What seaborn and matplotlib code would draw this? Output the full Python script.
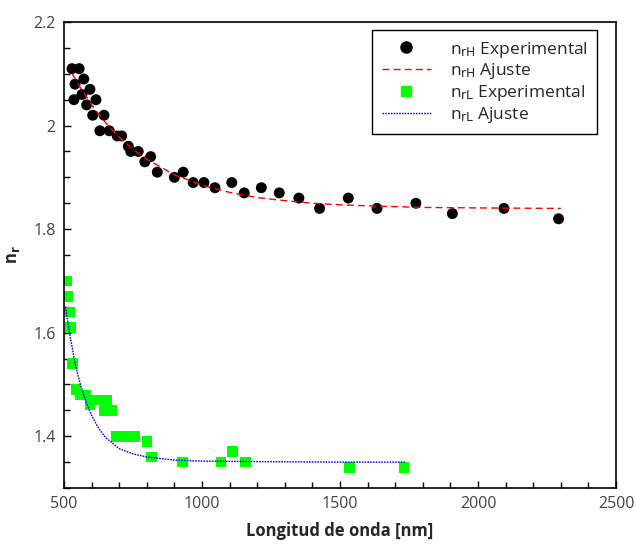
import matplotlib
matplotlib.use("Agg")
import matplotlib.pyplot as plt
from matplotlib.ticker import MultipleLocator
from matplotlib.lines import Line2D
import seaborn as sns
import pandas as pd

# nrH experimental
h_x = [529, 555, 540, 572, 536, 565, 594, 582, 616, 604, 645, 630, 664, 693, 709,
       733, 742, 769, 793, 814, 838, 900, 932, 968, 1007, 1047, 1108, 1153, 1215,
       1280, 1351, 1426, 1530, 1634, 1775, 1907, 2094, 2292]
h_y = [2.11, 2.11, 2.08, 2.09, 2.05, 2.06, 2.07, 2.04, 2.05, 2.02, 2.02, 1.99, 1.99,
       1.98, 1.98, 1.96, 1.95, 1.95, 1.93, 1.94, 1.91, 1.90, 1.91, 1.89, 1.89, 1.88,
       1.89, 1.87, 1.88, 1.87, 1.86, 1.84, 1.86, 1.84, 1.85, 1.83, 1.84, 1.82]

# nrH fit
hf_x = [530, 560, 600, 650, 700, 750, 800, 900, 1000, 1100, 1200, 1300, 1400, 1500,
        1600, 1800, 2000, 2300]
hf_y = [2.100, 2.073, 2.040, 2.006, 1.978, 1.954, 1.935, 1.905, 1.885, 1.871, 1.861,
        1.855, 1.850, 1.847, 1.845, 1.842, 1.841, 1.840]

# nrL experimental
l_x = [510, 514, 522, 524, 531, 543, 558, 580, 594, 618, 655, 645, 673, 688, 721,
       757, 800, 818, 929, 1069, 1111, 1158, 1535, 1732]
l_y = [1.70, 1.67, 1.64, 1.61, 1.54, 1.49, 1.48, 1.48, 1.46, 1.47, 1.47, 1.45, 1.45,
       1.40, 1.40, 1.40, 1.39, 1.36, 1.35, 1.35, 1.37, 1.35, 1.34, 1.34]

# nrL fit
lf_x = [505, 520, 540, 560, 580, 600, 625, 650, 700, 750, 800, 900, 1000, 1200,
        1500, 1740]
lf_y = [1.650, 1.600, 1.541, 1.499, 1.466, 1.440, 1.416, 1.398, 1.376, 1.366, 1.360,
        1.354, 1.352, 1.351, 1.350, 1.350]

labels = [r"n$_{\mathrm{rH}}$ Experimental", r"n$_{\mathrm{rH}}$ Ajuste",
          r"n$_{\mathrm{rL}}$ Experimental", r"n$_{\mathrm{rL}}$ Ajuste"]

sns.set_style("white")
plt.rcParams["font.family"] = ["Open Sans", "DejaVu Sans"]
plt.rcParams["mathtext.default"] = "regular"

fig = plt.figure(figsize=(6.36, 5.51), dpi=100)
ax = fig.add_axes([0.1006, 0.1143, 0.868, 0.8457])

dh = pd.DataFrame({"x": h_x, "y": h_y})
dhf = pd.DataFrame({"x": hf_x, "y": hf_y})
dl = pd.DataFrame({"x": l_x, "y": l_y})
dlf = pd.DataFrame({"x": lf_x, "y": lf_y})

red_ls = (0, (5, 3))
blue_ls = (0, (1.2, 0.8))

sns.lineplot(data=dhf, x="x", y="y", ax=ax, color="#ff0000", lw=1.0,
             linestyle=red_ls, sort=False, zorder=3)
sns.lineplot(data=dlf, x="x", y="y", ax=ax, color="#0000ff", lw=1.0,
             linestyle=blue_ls, sort=False, zorder=3)
sns.scatterplot(data=dh, x="x", y="y", ax=ax, color="black", marker="o", s=62,
                edgecolor="none", zorder=2)
sns.scatterplot(data=dl, x="x", y="y", ax=ax, color="#00ff00", marker="s", s=58,
                edgecolor="none", zorder=2)

handles = [
    Line2D([], [], color="black", marker="o", ls="none", markersize=8),
    Line2D([], [], color="#ff0000", lw=1.0, ls=red_ls),
    Line2D([], [], color="#00ff00", marker="s", ls="none", markersize=7),
    Line2D([], [], color="#0000ff", lw=1.0, ls=blue_ls),
]
leg = ax.legend(handles, labels, loc="upper right", bbox_to_anchor=(0.9656, 0.983),
                fontsize=12.5, frameon=True, fancybox=False, framealpha=1,
                edgecolor="black", borderpad=0.55, handlelength=2.8,
                labelspacing=0.1, handletextpad=1.1, borderaxespad=0)
leg.get_frame().set_linewidth(1.0)

ax.set_xlim(500, 2500)
ax.set_ylim(1.3, 2.2)
ax.xaxis.set_major_locator(MultipleLocator(500))
ax.xaxis.set_minor_locator(MultipleLocator(100))
ax.yaxis.set_minor_locator(MultipleLocator(0.05))
ax.set_yticks([1.4, 1.6, 1.8, 2.0, 2.2])
ax.set_yticklabels(["1.4", "1.6", "1.8", "2", "2.2"])
ax.tick_params(which="both", direction="in", left=True, bottom=True,
               top=False, right=False, colors="black", labelcolor="#444444",
               labelsize=11.5)
ax.tick_params(which="major", length=5, width=1, pad=6)
ax.tick_params(which="minor", length=4, width=1)
for s in ax.spines.values():
    s.set_color("black")
    s.set_linewidth(1.2)

ax.set_xlabel("Longitud de onda [nm]", fontsize=12, fontweight="bold", labelpad=7)
ax.set_ylabel(r"n$_{\mathbf{r}}$", fontsize=12, fontweight="bold", labelpad=8)

fig.savefig("out.png", dpi=100)
